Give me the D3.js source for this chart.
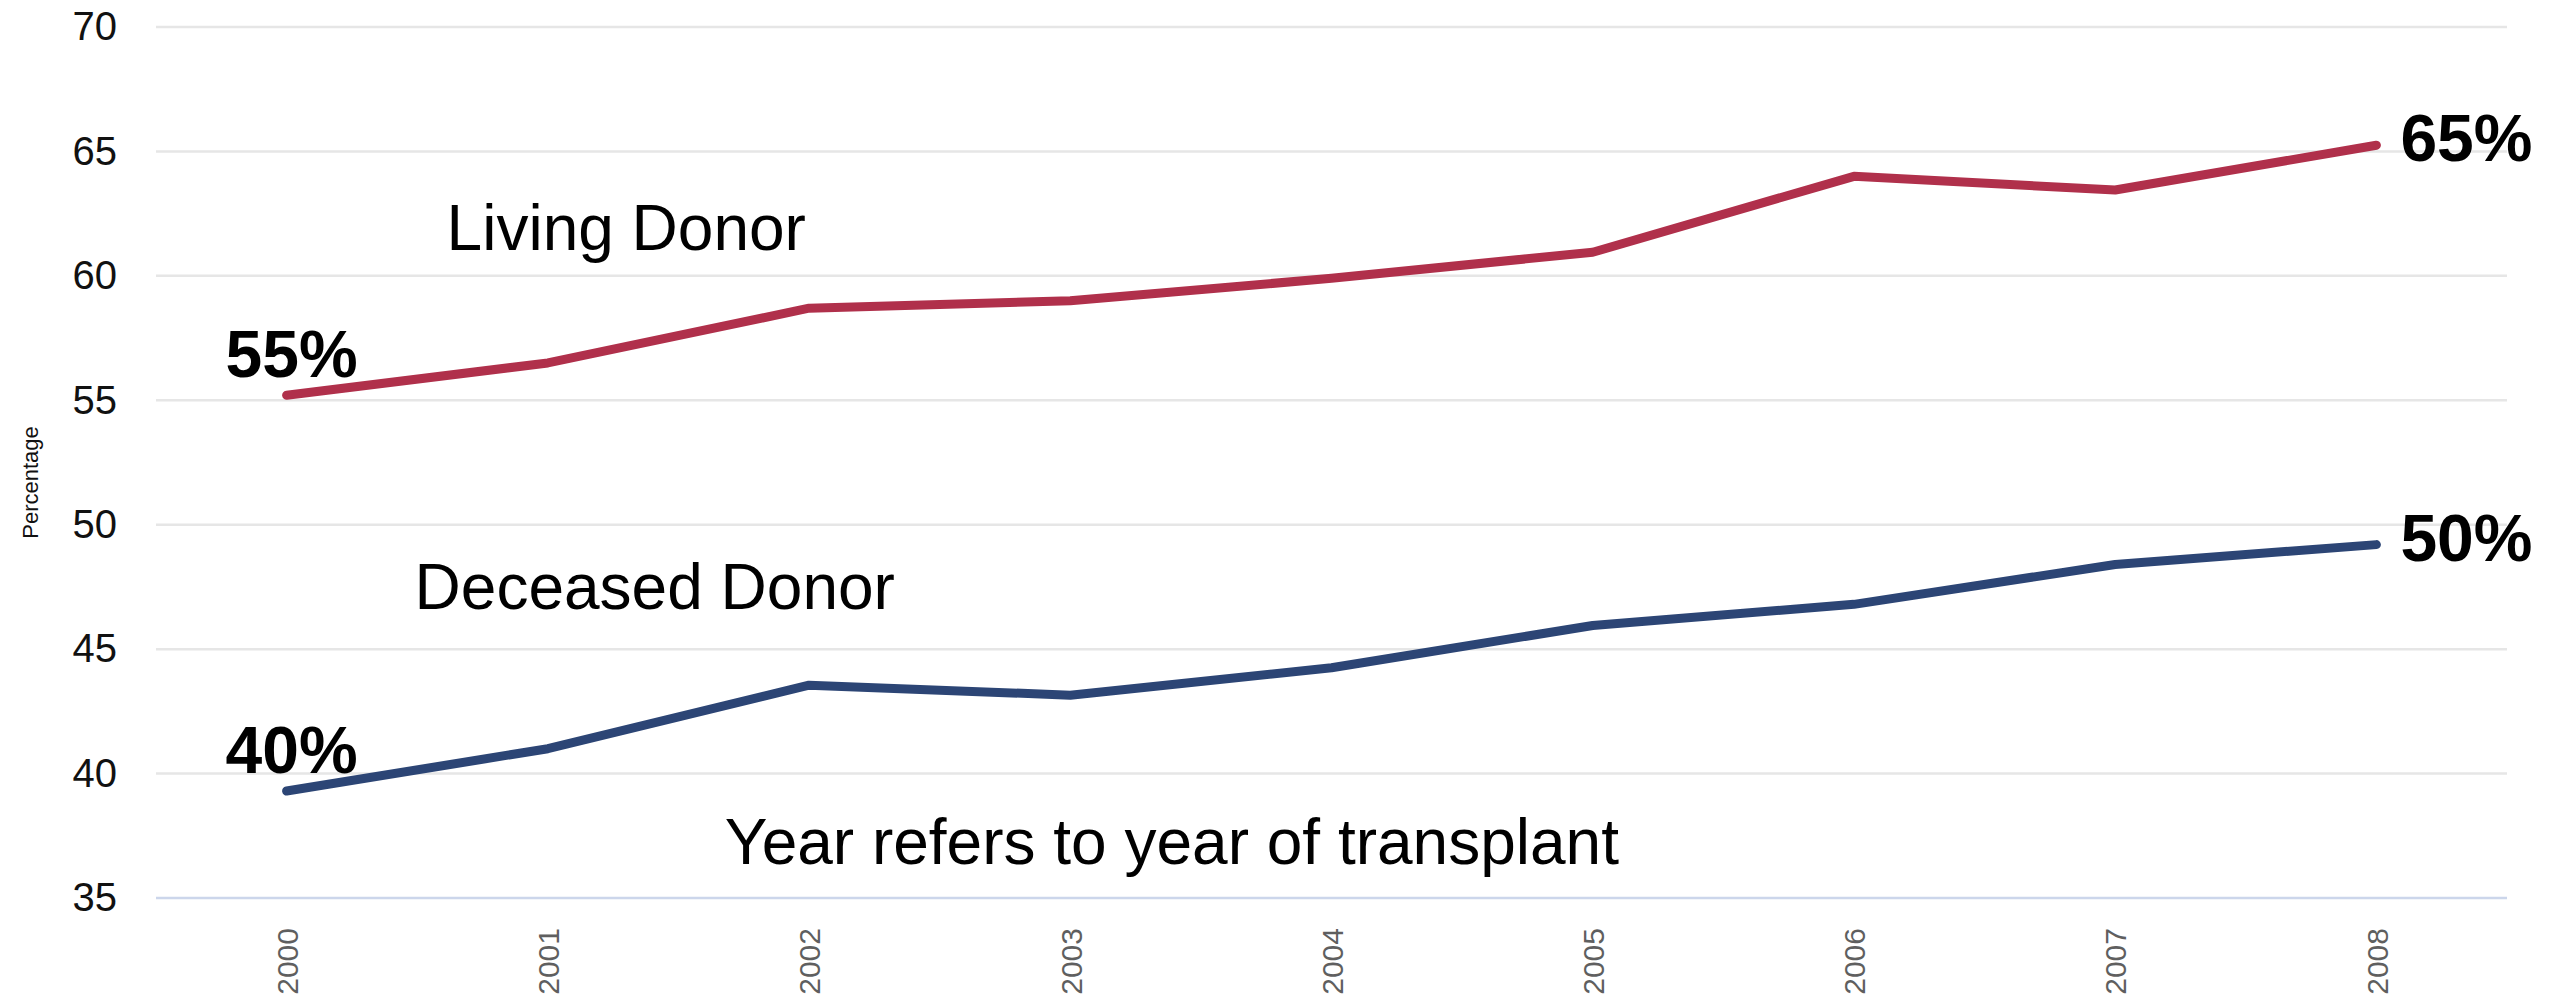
<!DOCTYPE html>
<html>
<head>
<meta charset="utf-8">
<script src="https://cdn.jsdelivr.net/npm/d3@7"></script>
<style>
  body { margin: 0; background: #fff; }
  text { font-family: "Liberation Sans", Arial, Helvetica, sans-serif; }
</style>
</head>
<body>
<div id="chart"></div>
<script>
// data
const years = ["2000", "2001", "2002", "2003", "2004", "2005", "2006", "2007", "2008"];
const livingDonor = [55.2, 56.5, 58.7, 59.0, 59.9, 60.95, 64.0, 63.45, 65.25];
const deceasedDonor = [39.3, 41.0, 43.55, 43.15, 44.25, 45.95, 46.8, 48.4, 49.2];
const yTicks = [35, 40, 45, 50, 55, 60, 65, 70];
const startLabels = ["55%", "40%"];
const endLabels = ["65%", "50%"];

const width = 2559, height = 997;
const margin = {top: 27, right: 52, bottom: 99, left: 156};

const svg = d3.select("#chart")
  .append("svg")
  .attr("width", width)
  .attr("height", height);

const x = d3.scalePoint()
  .domain(years)
  .range([margin.left, width - margin.right])
  .padding(0.5);

const y = d3.scaleLinear()
  .domain([35, 70])
  .range([height - margin.bottom, margin.top]);

// gridlines
svg.append("g")
  .selectAll("line")
  .data(yTicks)
  .join("line")
  .attr("x1", margin.left)
  .attr("x2", width - margin.right)
  .attr("y1", d => y(d))
  .attr("y2", d => y(d))
  .attr("stroke", d => d == 35 ? "#ccd6eb" : "#e6e6e6")
  .attr("stroke-width", 2.5);

// y axis labels
const yAxis = d3.axisLeft(y).tickValues(yTicks).tickSize(0).tickPadding(39);
svg.append("g")
  .attr("transform", `translate(${margin.left},0)`)
  .call(yAxis)
  .call(g => g.select(".domain").remove())
  .call(g => g.selectAll("text")
    .attr("font-size", 40)
    .attr("fill", "#111")
    .style("font-family", "'Liberation Sans', Arial, sans-serif"));

svg.append("text")
  .attr("transform", `translate(38,${(y(50) + y(55)) / 2 + 20}) rotate(-90)`)
  .attr("text-anchor", "middle")
  .attr("font-size", 22)
  .attr("fill", "#111")
  .text("Percentage");

// x axis labels, rotated
const xAxis = d3.axisBottom(x).tickSize(0).tickPadding(0);
svg.append("g")
  .attr("transform", `translate(0,${height - margin.bottom})`)
  .call(xAxis)
  .call(g => g.select(".domain").remove())
  .call(g => g.selectAll("text")
    .attr("transform", "rotate(-90)")
    .attr("text-anchor", "end")
    .attr("x", -30)
    .attr("y", 0)
    .attr("dy", "0.36em")
    .attr("font-size", 30)
    .attr("fill", "#5f5f5f")
    .style("font-family", "'Liberation Sans', Arial, sans-serif"));

// lines
const line = d3.line()
  .x((d, i) => x(years[i]))
  .y(d => y(d));

const series = [
  {values: livingDonor, color: "#b0304b"},
  {values: deceasedDonor, color: "#2c4575"}
];

series.forEach((s, i) => {
  svg.append("path")
    .datum(s.values)
    .attr("d", line)
    .attr("fill", "none")
    .attr("stroke", s.color)
    .attr("stroke-width", 9)
    .attr("stroke-linejoin", "round")
    .attr("stroke-linecap", "round");

  // value callouts at both ends
  svg.append("text")
    .attr("x", x(years[0]) - 61)
    .attr("y", y(s.values[0]) - 18)
    .attr("font-size", 66)
    .attr("font-weight", "bold")
    .attr("fill", "#000")
    .text(startLabels[i]);

  const last = s.values.length - 1;
  svg.append("text")
    .attr("x", x(years[last]) + 24)
    .attr("y", y(s.values[last]) + 16)
    .attr("font-size", 66)
    .attr("font-weight", "bold")
    .attr("fill", "#000")
    .text(endLabels[i]);
});

// free text annotations
function drawText(txt, xv, yv) {
  svg.append("text")
    .attr("x", xv)
    .attr("y", yv)
    .attr("font-size", 64)
    .attr("fill", "#000")
    .text(txt);
}
drawText("Living Donor", x("2000") + 160, y(61.05));
drawText("Deceased Donor", x("2000") + 128, y(46.6));
drawText("Year refers to year of transplant", x("2001") + 177, y(36.35));
</script>
</body>
</html>
